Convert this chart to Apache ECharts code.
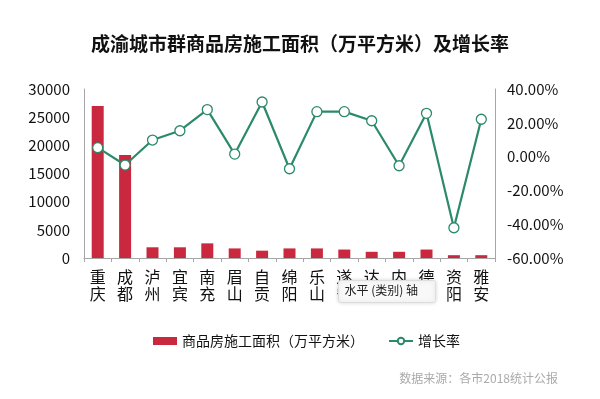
<!DOCTYPE html>
<html><head><meta charset="utf-8">
<script src="https://cdn.jsdelivr.net/npm/echarts@6/dist/echarts.min.js"></script>
<style>html,body{margin:0;padding:0;background:#fff}#c{width:600px;height:399px}</style>
</head><body><div id="c"></div>
<script>
const categories = ['重庆','成都','泸州','宜宾','南充','眉山','自贡','绵阳','乐山','遂宁','达州','内江','德阳','资阳','雅安'];
const area = [27000, 18300, 1900, 1900, 2600, 1700, 1300, 1700, 1700, 1500, 1100, 1100, 1500, 500, 500];
const growth = [5.3, -5.0, 9.8, 15.3, 27.8, 1.5, 32.3, -7.2, 26.6, 26.6, 21.2, -5.4, 25.6, -42.1, 22.1];
const titleText = '成渝城市群商品房施工面积（万平方米）及增长率';
const seriesNames = ['商品房施工面积（万平方米）', '增长率'];
const sourceText = '数据来源：各市2018统计公报';
const tipText = '水平 (类别) 轴';

const font = '"Noto Sans CJK SC", "Noto Sans", sans-serif';
const chart = echarts.init(document.getElementById('c'));
chart.setOption({
  animation: false,
  title: { text: titleText, left: 'center', top: 29, textStyle: { fontFamily: font, fontSize: 19, fontWeight: 'bold', color: '#111' } },
  grid: { left: 84, right: 105, top: 89, bottom: 141 },
  legend: {
    bottom: 46, left: 148, itemGap: 24,
    textStyle: { fontFamily: font, fontSize: 14, color: '#111' },
    data: [
      { name: seriesNames[0], icon: 'rect', itemStyle: { color: '#c9283e' } },
      { name: seriesNames[1] }
    ],
    itemWidth: 24, itemHeight: 8
  },
  xAxis: {
    type: 'category', data: categories,
    axisLine: { lineStyle: { color: '#a6a6a6' } },
    axisTick: { show: true, length: 4, lineStyle: { color: '#a6a6a6' } },
    axisLabel: { interval: 0, margin: 10, fontFamily: font, fontSize: 16, lineHeight: 17, color: '#111', formatter: v => v.split('').join('\n') }
  },
  yAxis: [
    { type: 'value', min: 0, max: 30000, interval: 5000,
      axisLine: { show: true, lineStyle: { color: '#a6a6a6' } }, splitLine: { show: false },
      axisLabel: { fontFamily: font, fontSize: 15, color: '#111', margin: 14, formatter: v => String(v) } },
    { type: 'value', min: -60, max: 40, interval: 20,
      axisLine: { show: true, lineStyle: { color: '#a6a6a6' } }, splitLine: { show: false },
      axisLabel: { fontFamily: font, fontSize: 15, color: '#111', margin: 12, formatter: v => v.toFixed(2) + '%' } }
  ],
  series: [
    { name: seriesNames[0], type: 'bar', data: area, barWidth: 12, itemStyle: { color: '#c9283e' } },
    { name: seriesNames[1], type: 'line', yAxisIndex: 1, data: growth, symbol: 'circle', symbolSize: 10,
      lineStyle: { color: '#2b8a68', width: 2.2 }, itemStyle: { color: '#fff', borderColor: '#2b8a68', borderWidth: 1.3 } }
  ],
  graphic: [
    { type: 'text', right: 42, bottom: 15, style: { text: sourceText, fontFamily: font, fontSize: 12, fill: '#aaaaaa' } },
    { type: 'group', left: 338, top: 280, z: 100, children: [
      { type: 'rect', z: 100, shape: { x: 0, y: 0, width: 97, height: 22, r: 2 }, style: { fill: '#f8f8f8', stroke: '#dddddd', shadowBlur: 4, shadowColor: 'rgba(0,0,0,0.15)' } },
      { type: 'text', z: 101, x: 6, y: 4, style: { text: tipText, fontFamily: font, fontSize: 12, fill: '#222' } }
    ]}
  ]
});
</script></body></html>
